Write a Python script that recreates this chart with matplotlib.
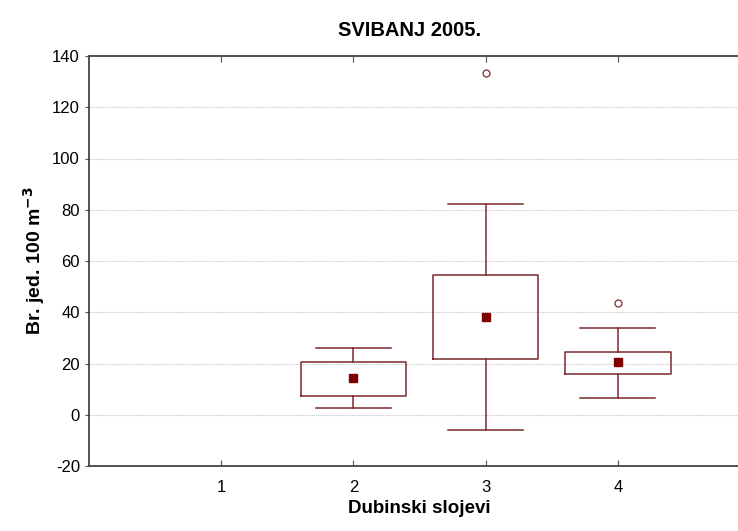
import matplotlib
matplotlib.use("Agg")
import matplotlib.pyplot as plt

plt.rcParams['font.family'] = ['Liberation Sans', 'DejaVu Sans']

groups = [2, 3, 4]
box_low = [7.3, 21.6, 16.0]
box_high = [20.7, 54.7, 24.4]
whisk_low = [2.6, -6.0, 6.7]
whisk_high = [25.9, 82.2, 33.7]
means = [14.2, 38.3, 20.6]
outliers = [[], [133.2], [43.5]]
xticks = [1, 2, 3, 4]
yticks = [-20, 0, 20, 40, 60, 80, 100, 120, 140]

line_c = '#7b2a2e'
mean_c = '#800000'

fig = plt.figure(figsize=(7.38, 5.31), dpi=100)
ax = fig.add_axes([89/738, 65/531, 661/738, 410/531])

stats = []
for i in range(len(groups)):
    stats.append(dict(med=means[i], q1=box_low[i], q3=box_high[i],
                      whislo=whisk_low[i], whishi=whisk_high[i],
                      fliers=outliers[i], mean=means[i]))

ax.bxp(stats, positions=groups, widths=0.8, showmeans=True, meanline=False,
       showfliers=True, patch_artist=False,
       boxprops=dict(color=line_c, linewidth=1.1),
       whiskerprops=dict(color=line_c, linewidth=1.1),
       capprops=dict(color=line_c, linewidth=1.1),
       capwidths=0.57,
       medianprops=dict(linewidth=0),
       meanprops=dict(marker='s', markerfacecolor=mean_c, markeredgecolor=mean_c, markersize=5.5),
       flierprops=dict(marker='o', markerfacecolor='white', markeredgecolor='#8b3a3a',
                       markersize=5, markeredgewidth=1))

ax.set_xlim(0, 5)
ax.set_ylim(-20, 140)
ax.set_xticks(xticks)
ax.set_xticklabels([str(t) for t in xticks], fontsize=12)
ax.set_yticks(yticks)
ax.set_yticklabels([str(t) for t in yticks], fontsize=12)
ax.tick_params(axis='x', which='both', top=True, bottom=True, direction='in', length=4, color='#555555', pad=10)
ax.tick_params(axis='y', which='both', left=True, right=False, direction='out', length=3, color='#555555')

for s in ['left', 'bottom', 'top']:
    ax.spines[s].set_color('#444444')
    ax.spines[s].set_linewidth(1.3)
ax.spines['right'].set_visible(False)

ax.yaxis.grid(True, linestyle=(0, (1, 1)), color='#c4c4c4', linewidth=0.8)
ax.set_axisbelow(True)

ax.set_xlabel('Dubinski slojevi', fontsize=13.5, fontweight='bold', labelpad=4)
ax.set_ylabel('Br. jed. 100 m$^{\\mathbf{-3}}$', fontsize=14, fontweight='bold', labelpad=4)
fig.text(410/738, 1 - 30/531, 'SVIBANJ 2005.', fontsize=14.5, fontweight='bold',
         ha='center', va='center')

fig.savefig('out.png', dpi=100)
